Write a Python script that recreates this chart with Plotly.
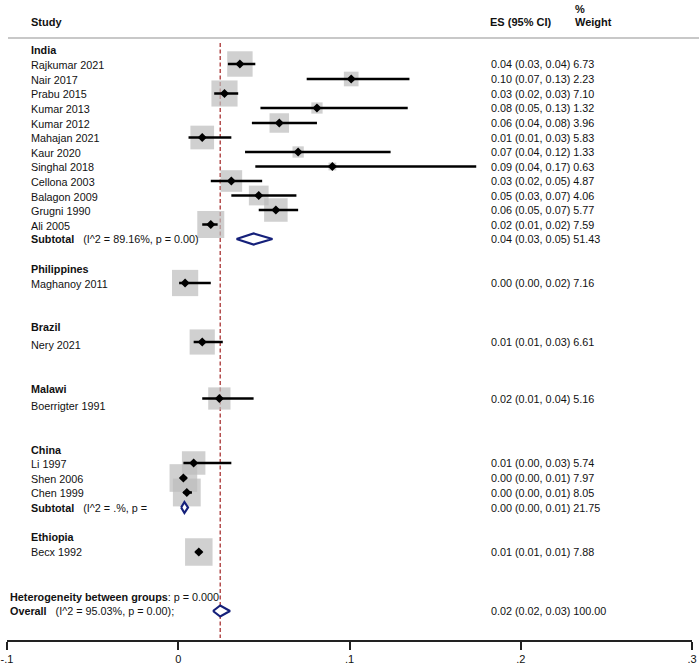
import plotly.graph_objects as go
import math

# ---------------- data ----------------
studies = ["Rajkumar 2021", "Nair 2017", "Prabu 2015", "Kumar 2013", "Kumar 2012",
           "Mahajan 2021", "Kaur 2020", "Singhal 2018", "Cellona 2003", "Balagon 2009",
           "Grugni 1990", "Ali 2005", "Maghanoy 2011", "Nery 2021", "Boerrigter 1991",
           "Li 1997", "Shen 2006", "Chen 1999", "Becx 1992"]
es = [0.036, 0.101, 0.027, 0.081, 0.059, 0.014, 0.070, 0.090, 0.031, 0.047,
      0.057, 0.019, 0.004, 0.014, 0.024, 0.009, 0.003, 0.005, 0.012]
lo = [0.029, 0.075, 0.021, 0.048, 0.043, 0.006, 0.039, 0.045, 0.019, 0.031,
      0.047, 0.014, 0.0005, 0.009, 0.014, 0.003, 0.001, 0.003, 0.010]
hi = [0.045, 0.135, 0.035, 0.134, 0.081, 0.031, 0.124, 0.174, 0.049, 0.069,
      0.070, 0.023, 0.019, 0.026, 0.044, 0.031, 0.005, 0.008, 0.014]
weight = [6.73, 2.23, 7.10, 1.32, 3.96, 5.83, 1.33, 0.63, 4.87, 4.06,
          5.77, 7.59, 7.16, 6.61, 5.16, 5.74, 7.97, 8.05, 7.88]
ci_text = ["0.04 (0.03, 0.04)", "0.10 (0.07, 0.13)", "0.03 (0.02, 0.03)", "0.08 (0.05, 0.13)",
           "0.06 (0.04, 0.08)", "0.01 (0.01, 0.03)", "0.07 (0.04, 0.12)", "0.09 (0.04, 0.17)",
           "0.03 (0.02, 0.05)", "0.05 (0.03, 0.07)", "0.06 (0.05, 0.07)", "0.02 (0.01, 0.02)",
           "0.00 (0.00, 0.02)", "0.01 (0.01, 0.03)", "0.02 (0.01, 0.04)", "0.01 (0.00, 0.03)",
           "0.00 (0.00, 0.01)", "0.00 (0.00, 0.01)", "0.01 (0.01, 0.01)"]

groups = ["India", "Philippines", "Brazil", "Malawi", "China", "Ethiopia"]

sub_es = [0.044, 0.0036]
sub_lo = [0.034, 0.0017]
sub_hi = [0.055, 0.0057]
sub_weight = [51.43, 21.75]
sub_ci_text = ["0.04 (0.03, 0.05)", "0.00 (0.00, 0.01)"]
sub_het = ["(I^2 = 89.16%, p = 0.00)", "(I^2 = .%, p ="]

overall_es, overall_lo, overall_hi, overall_weight = 0.0245, 0.0203, 0.0302, 100.00
overall_ci_text = "0.02 (0.02, 0.03)"
overall_het = "(I^2 = 95.03%, p = 0.00);"
between_het = "p = 0.000"

tick_vals = [-0.1, 0, 0.1, 0.2, 0.3]
tick_text = ["-.1", "0", ".1", ".2", ".3"]

# ---------------- layout positions (pixel rows) ----------------
study_y = [64, 79, 93.5, 108, 123, 137.5, 152, 166.5, 181, 195.5, 210, 224.5,
           283, 342, 398.5, 463, 478, 492.5, 552]
label_y = [65, 79.5, 94, 109, 124, 138, 152.5, 167, 182, 196.5, 211, 225.5,
           284, 345, 406, 464, 479, 493, 552]
group_y = [50, 268.5, 327, 389, 450, 537]
sub_y = [239, 507.5]
het_y, overall_y = 597, 611

PX_L, PX_R = 7, 692
def px(p):
    return (p - PX_L) / (PX_R - PX_L)

FONT = "Liberation Sans, Arial, sans-serif"
TXT = "#111111"
BOX = "#bcbcbc"
NAVY = "#15207a"
REF = "#a83232"

fig = go.Figure()

# reference (overall) dashed line
fig.add_trace(go.Scatter(x=[overall_es, overall_es], y=[43, 638], mode="lines",
                         line=dict(color=REF, width=1.3, dash="4px,2.5px"),
                         hoverinfo="skip", showlegend=False))

# weight boxes
fig.add_trace(go.Scatter(x=es, y=study_y, mode="markers",
                         marker=dict(symbol="square", color=BOX,
                                     size=[9.8 * math.sqrt(w) for w in weight],
                                     line=dict(width=0)),
                         hoverinfo="skip", showlegend=False))

# confidence intervals
cx, cy = [], []
for l, h, y in zip(lo, hi, study_y):
    cx += [l, h, None]
    cy += [y, y, None]
fig.add_trace(go.Scatter(x=cx, y=cy, mode="lines", line=dict(color="black", width=2.5),
                         hoverinfo="skip", showlegend=False))

# point estimates
fig.add_trace(go.Scatter(x=es, y=study_y, mode="markers",
                         marker=dict(symbol="diamond", color="black", size=7, line=dict(width=0)),
                         hoverinfo="skip", showlegend=False))

# pooled diamonds
def diamond(e, l, h, y, hh=5.5):
    fig.add_trace(go.Scatter(x=[l, e, h, e, l], y=[y, y - hh, y, y + hh, y], mode="lines",
                             fill="toself", fillcolor="white",
                             line=dict(color=NAVY, width=2.2),
                             hoverinfo="skip", showlegend=False))

for e, l, h, y in zip(sub_es, sub_lo, sub_hi, sub_y):
    diamond(e, l, h, y)
diamond(overall_es, overall_lo, overall_hi, overall_y)

# ---------------- text ----------------
ann = []
def text(x, y, s, size=10.5, bold=False):
    ann.append(dict(xref="paper", yref="y", x=x, y=y, text=("<b>%s</b>" % s) if bold else s,
                    showarrow=False, xanchor="left", yanchor="middle",
                    font=dict(family=FONT, size=size, color=TXT)))

text(px(29), 22, "Study", 11, True)
text(px(488), 22, "ES (95% CI)", 11, True)
text(px(573), 9, "%", 11, True)
text(px(573), 22, "Weight", 11, True)

for g, y in zip(groups, group_y):
    text(px(29), y, g, 10.8, True)
for s, y in zip(studies, label_y):
    text(px(29), y, s, 10.8)
for c, w, y in zip(ci_text, weight, study_y):
    text(px(489), y, "%s %.2f" % (c, w), 10.8)
for h, c, w, y in zip(sub_het, sub_ci_text, sub_weight, sub_y):
    text(px(29), y, "<b>Subtotal</b>&nbsp;&nbsp;&nbsp;" + h, 10.8)
    text(px(489), y, "%s %.2f" % (c, w), 10.8)

text(px(8), het_y, "<b>Heterogeneity between groups</b>: " + between_het, 10.8)
text(px(8), overall_y, "<b>Overall</b>&nbsp;&nbsp;&nbsp;" + overall_het, 10.8)
text(px(489), overall_y, "%s %.2f" % (overall_ci_text, overall_weight), 10.8)

fig.update_layout(
    width=700, height=667,
    margin=dict(l=PX_L, r=700 - PX_R, t=0, b=27),
    paper_bgcolor="white", plot_bgcolor="white",
    annotations=ann,
    shapes=[dict(type="line", xref="paper", yref="y", x0=px(8), x1=px(699), y0=38, y1=38,
                 line=dict(color="#c8c8c8", width=2))],
    xaxis=dict(range=[-0.1, 0.3], tickvals=tick_vals, ticktext=tick_text,
               showgrid=False, zeroline=False, showline=True, linecolor="#222222", linewidth=2,
               ticks="outside", ticklen=8, tickwidth=2, tickcolor="#222222",
               tickfont=dict(family=FONT, size=11, color=TXT), fixedrange=True),
    yaxis=dict(range=[640, 0], visible=False, fixedrange=True),
    showlegend=False,
)

fig.write_html("out.html")
